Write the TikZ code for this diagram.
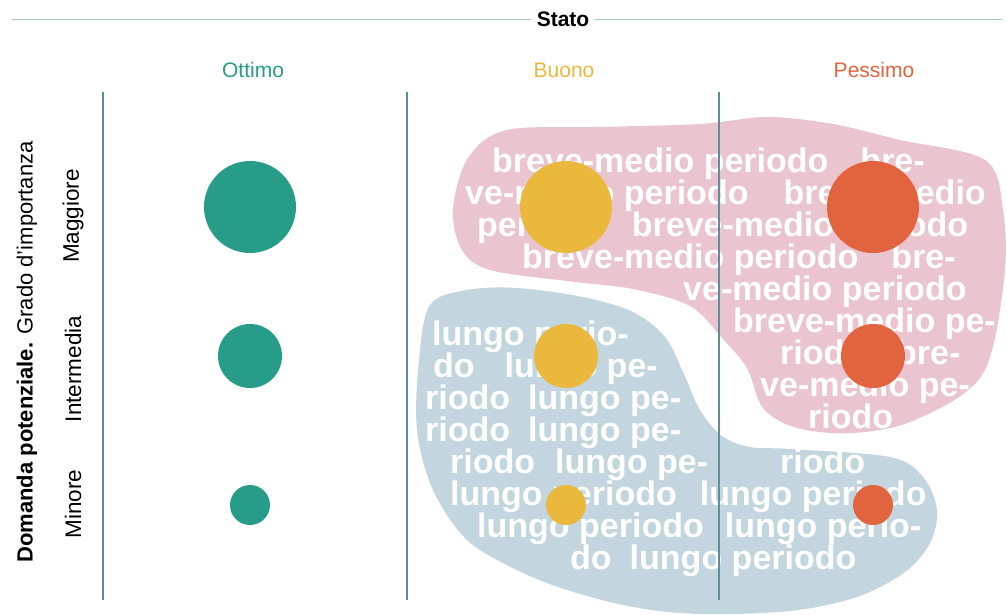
\documentclass[tikz,border=0pt]{standalone}
\usepackage{fontspec}
\setmainfont{Liberation Sans}
\usetikzlibrary{positioning}

\begin{document}
\begin{tikzpicture}[x=1pt, y=-1pt, every node/.style={inner sep=0pt, font=\fontsize{21}{24}\selectfont},
  blobtxt/.style={anchor=base west, text=white, font=\fontsize{34}{32}\selectfont\bfseries},
  rowlbl/.style={rotate=90, font=\fontsize{22.5}{24}\selectfont}, colhead/.style={text=#1}]
\definecolor{TealC}{HTML}{279D89}\definecolor{GoldC}{HTML}{E9B83D}\definecolor{RedC}{HTML}{E2643F}
\definecolor{PinkBlob}{HTML}{EAC5CF}\definecolor{BlueBlob}{HTML}{C3D6DF}
\definecolor{AxisLine}{HTML}{5F8D9C}\definecolor{HeadLine}{HTML}{9CC4C4}
\useasboundingbox (0,0) rectangle (1007,614);
\fill[white] (0,0) rectangle (1007,614);
% header
\node[font=\fontsize{21}{24}\selectfont\bfseries, inner xsep=6pt] (stato) at (563,19) {Stato};
\coordinate (hl) at (12,19); \coordinate (hr) at (1002,19);
\draw[HeadLine, line width=1pt] (hl) -- (stato); \draw[HeadLine, line width=1pt] (stato) -- (hr);
\node[colhead=TealC] (ottimo) at (253,70) {Ottimo};
\node[colhead=GoldC] (buono) at (564,70) {Buono};
\node[colhead=RedC] (pessimo) at (874,70) {Pessimo};
% left labels
\node[rowlbl, font=\fontsize{22}{24}\selectfont] (domanda) at (27,352) {\textbf{Domanda potenziale.} Grado d’importanza};
\node[rowlbl] (maggiore) at (73,216) {Maggiore};
\node[rowlbl] (intermedia) at (73,369) {Intermedia};
\node[rowlbl] (minore) at (73,504) {Minore};
% blobs
\fill[PinkBlob] plot[smooth cycle, tension=0.55] coordinates {(453,210) (468,158) (507,130) (600,127) (700,124) (767,117) (833,124) (900,140) (985,160) (1003,210) (1004,280) (982,375) (915,420) (853,433) (797,428) (763,408) (747,368) (722,338) (690,306) (633,289) (567,281) (490,270) (462,250)};
\fill[BlueBlob] plot[smooth cycle, tension=0.55] coordinates {(430,305) (467,290) (517,288) (583,297) (633,312) (665,337) (683,372) (700,410) (722,436) (750,447) (790,449) (890,457) (923,477) (937,510) (930,543) (905,572) (857,597) (790,611) (700,614) (633,607) (567,590) (517,570) (467,540) (433,490) (417,430) (419,360)};
% blob texts
\node[blobtxt] (p1) at (492,172) {breve-medio periodo\hspace{32pt}bre-};
\node[blobtxt] (p2) at (465,204) {ve-medio periodo\hspace{35pt}breve-medio};
\node[blobtxt] (p3) at (477,236) {periodo\hspace{30pt}breve-medio periodo};
\node[blobtxt] (p4) at (522,268) {breve-medio periodo\hspace{33pt}bre-};
\node[blobtxt] (p5) at (683,300) {ve-medio periodo};
\node[blobtxt] (p6) at (733,332) {breve-medio pe-};
\node[blobtxt] (p7) at (780,364) {riodo\hspace{31pt}bre-};
\node[blobtxt] (p8) at (760,396) {ve-medio pe-};
\node[blobtxt] (p9) at (808,428) {riodo};
\node[blobtxt] (l1) at (432,345) {lungo perio-};
\node[blobtxt] (l2) at (433,377) {do\hspace{30pt}lungo pe-};
\node[blobtxt] (l3) at (425,409) {riodo\hspace{18pt}lungo pe-};
\node[blobtxt] (l4) at (425,441) {riodo\hspace{18pt}lungo pe-};
\node[blobtxt] (l5) at (450,473) {riodo\hspace{20pt}lungo pe-\hspace{72pt}riodo};
\node[blobtxt] (l6) at (450,505) {lungo periodo\hspace{23pt}lungo periodo};
\node[blobtxt] (l7) at (477,537) {lungo periodo\hspace{21pt}lungo perio-};
\node[blobtxt] (l8) at (570,569) {do\hspace{18pt}lungo periodo};
% circles
\foreach \cx/\col in {250/TealC, 566/GoldC, 873/RedC} {
  \fill[\col] (\cx,207) circle (46);
  \fill[\col] (\cx,356) circle (32);
  \fill[\col] (\cx,505) circle (20);
}
% grid lines
\foreach \gx in {103,407,719} \draw[AxisLine, line width=1.2pt] (\gx,92) -- (\gx,600);
\end{tikzpicture}
\end{document}
